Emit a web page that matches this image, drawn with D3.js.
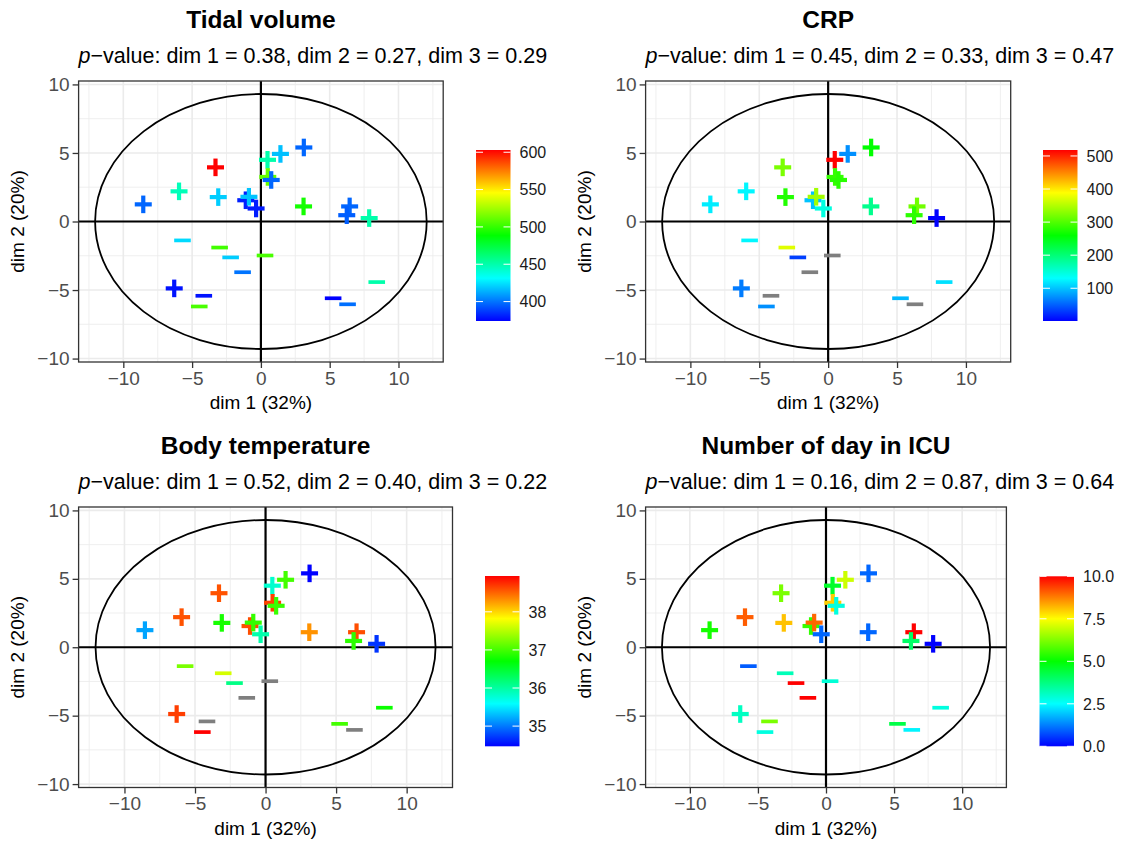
<html>
<head>
<meta charset="utf-8">
<script src="https://d3js.org/d3.v7.min.js"></script>
<style>
  body { margin: 0; background: white; }
  text { font-family: "Liberation Sans", Arial, sans-serif; }
</style>
</head>
<body>
<svg id="chart" width="1124" height="841"></svg>
<script>
// individuals: coordinates on the first two dimensions and their sign
const dim1 = [-8.55, -5.95, -3.3, -3.1, -1.1, -0.87, -0.35, 0.48, 0.5, 0.75, 1.42, 3.12, 3.1, 6.45, 6.24, 7.87, -6.3,
              -5.7, -3.0, -2.2, -1.33, 0.3, -4.15, -4.48, 5.25, 6.3, 8.42];
const dim2 = [1.25, 2.2, 3.95, 1.78, 1.55, 1.8, 0.95, 4.5, 3.25, 3.03, 4.93, 5.4, 1.1, 1.1, 0.46, 0.25, -4.88,
              -1.38, -1.9, -2.62, -3.7, -2.48, -5.42, -6.2, -5.6, -6.04, -4.42];
const sign = ['+','+','+','+','+','+','+','+','+','+','+','+','+','+','+','+','+',
              '-','-','-','-','-','-','-','-','-','-'];

// colour variables (null = missing)
const tidalVolume = [397, 447, 603, 420, 381, 418, 380, 450, 511, 397, 417, 397, 493, 397, 395, 450, 378,
                     423, 503, 420, 400, 505, 378, 505, 374, 399, 450];
const crp = [121, 126, 322, 276, 100, 342, 146, 518, 286, 280, 74, 260, 188, 317, 282, 1, 64,
             126, 373, 33, null, null, null, 74, 95, null, 115];
const bodyTemp = [35.19, 38.58, 38.58, 36.8, 38.6, 36.93, 35.95, 35.8, 38.65, 36.95, 37.0, 34.47, 38.3, 38.6, 36.9, 34.7, 38.67,
                  37.24, 37.64, 36.12, null, null, null, 38.94, 37.0, null, 36.75];
const icuDays = [5.2, 9.1, 6.2, 8.1, 5.5, 9.0, 1.0, 4.6, 8.0, 2.8, 7.0, 1.0, 1.0, 10, 4.0, 0, 3.1,
                 0.9, 3.2, 10, 10, 2.9, 6.2, 2.8, 4.3, 2.4, 2.8];

const titles = ["Tidal volume", "CRP", "Body temperature", "Number of day in ICU"];
const pvals = [["0.38","0.27","0.29"], ["0.45","0.33","0.47"], ["0.52","0.40","0.22"], ["0.16","0.87","0.64"]];
const legendTicks = [[400, 450, 500, 550, 600], [100, 200, 300, 400, 500], [35, 36, 37, 38], [0, 2.5, 5, 7.5, 10]];
const legendFmt = [d3.format("d"), d3.format("d"), d3.format("d"), d3.format(".1f")];
const axisTicks = [-10, -5, 0, 5, 10];
const minorX = [-12.5, -7.5, -2.5, 2.5, 7.5, 12.5];
const minorY = [-7.5, -2.5, 2.5, 7.5];
const ellipseR = [12.05, 9.3];

const values = [tidalVolume, crp, bodyTemp, icuDays];
const rainbow = ["#0000FF", "#00FFFF", "#00FF00", "#FFFF00", "#FF0000"];

const panels = [
  {l: 78.6, r: 443.2, t: 81, b: 362, cx: 476, ct: 150, cb: 321},
  {l: 645.6, r: 1010.7, t: 81, b: 362, cx: 1043, ct: 150, cb: 321},
  {l: 78.6, r: 452.5, t: 507, b: 787.5, cx: 485, ct: 576, cb: 746.3},
  {l: 645.6, r: 1006.4, t: 507, b: 787.5, cx: 1039.5, ct: 576.3, cb: 746.3}
];

const svg = d3.select("#chart");
const defs = svg.append("defs");

panels.forEach(function(p, k) {
  const g = svg.append("g");
  const x = d3.scaleLinear().domain([-13.25, 13.25]).range([p.l, p.r]);
  const y = d3.scaleLinear().domain([-10.25, 10.25]).range([p.b, p.t]);
  const vals = values[k];
  const ext = d3.extent(vals.filter(function(v) { return v != null; }));
  const col = d3.scaleLinear()
    .domain(d3.range(5).map(function(i) { return ext[0] + i * (ext[1] - ext[0]) / 4; }))
    .range(rainbow);

  // grid
  g.selectAll(".mx").data(minorX).enter().append("line")
    .attr("x1", d => x(d)).attr("x2", d => x(d)).attr("y1", p.t).attr("y2", p.b)
    .attr("stroke", "#EBEBEB").attr("stroke-width", 0.8);
  g.selectAll(".my").data(minorY).enter().append("line")
    .attr("y1", d => y(d)).attr("y2", d => y(d)).attr("x1", p.l).attr("x2", p.r)
    .attr("stroke", "#EBEBEB").attr("stroke-width", 0.8);
  g.selectAll(".gx").data(axisTicks).enter().append("line")
    .attr("x1", d => x(d)).attr("x2", d => x(d)).attr("y1", p.t).attr("y2", p.b)
    .attr("stroke", "#EBEBEB").attr("stroke-width", 1.6);
  g.selectAll(".gy").data(axisTicks).enter().append("line")
    .attr("y1", d => y(d)).attr("y2", d => y(d)).attr("x1", p.l).attr("x2", p.r)
    .attr("stroke", "#EBEBEB").attr("stroke-width", 1.6);

  // ellipse and zero lines
  g.append("ellipse")
    .attr("cx", x(0)).attr("cy", y(0))
    .attr("rx", x(ellipseR[0]) - x(0)).attr("ry", y(0) - y(ellipseR[1]))
    .attr("fill", "none").attr("stroke", "black").attr("stroke-width", 1.8);
  g.append("line").attr("x1", p.l).attr("x2", p.r).attr("y1", y(0)).attr("y2", y(0))
    .attr("stroke", "black").attr("stroke-width", 2.2);
  g.append("line").attr("x1", x(0)).attr("x2", x(0)).attr("y1", p.t).attr("y2", p.b)
    .attr("stroke", "black").attr("stroke-width", 2.2);

  // points
  const pts = g.selectAll(".pt").data(d3.range(dim1.length)).enter().append("g")
    .attr("transform", i => "translate(" + x(dim1[i]) + "," + y(dim2[i]) + ")");
  pts.each(function(i) {
    const c = vals[i] == null ? "#7F7F7F" : col(vals[i]);
    const s = d3.select(this);
    if (sign[i] === '+') {
      s.append("line").attr("x1", -8.5).attr("x2", 8.5).attr("y1", 0).attr("y2", 0)
        .attr("stroke", c).attr("stroke-width", 4.2);
      s.append("line").attr("x1", 0).attr("x2", 0).attr("y1", -8.8).attr("y2", 8.8)
        .attr("stroke", c).attr("stroke-width", 4.2);
    } else {
      s.append("line").attr("x1", -8.3).attr("x2", 8.3).attr("y1", 0).attr("y2", 0)
        .attr("stroke", c).attr("stroke-width", 3.7);
    }
  });

  // panel border
  g.append("rect").attr("x", p.l).attr("y", p.t).attr("width", p.r - p.l).attr("height", p.b - p.t)
    .attr("fill", "none").attr("stroke", "#333333").attr("stroke-width", 1.3);

  // axes
  const ax = g.append("g").attr("transform", "translate(0," + p.b + ")")
    .call(d3.axisBottom(x).tickValues(axisTicks).tickSize(6).tickPadding(3).tickFormat(d3.format("d")));
  const ay = g.append("g").attr("transform", "translate(" + p.l + ",0)")
    .call(d3.axisLeft(y).tickValues(axisTicks).tickSize(6).tickPadding(3).tickFormat(d3.format("d")));
  [ax, ay].forEach(function(a) {
    a.select(".domain").remove();
    a.selectAll(".tick line").attr("stroke", "#333333").attr("stroke-width", 1.3);
    a.selectAll(".tick text").attr("fill", "#4D4D4D").style("font-size", "19px")
      .style("font-family", "'Liberation Sans', Arial, sans-serif");
  });
  ax.selectAll(".tick text").attr("dy", "0.72em");

  // axis titles
  g.append("text").attr("x", (p.l + p.r) / 2).attr("y", p.b + 47.3).attr("text-anchor", "middle")
    .style("font-size", "19px").text("dim 1 (32%)");
  g.append("text").attr("transform", "translate(" + (p.l - 55) + "," + ((p.t + p.b) / 2) + ") rotate(-90)")
    .attr("text-anchor", "middle").style("font-size", "19px").text("dim 2 (20%)");

  // title and subtitle
  g.append("text").attr("x", (p.l + p.r) / 2).attr("y", p.t - 52.7).attr("text-anchor", "middle")
    .style("font-size", "24.5px").style("font-weight", "bold").text(titles[k]);
  const sub = g.append("text").attr("x", p.l).attr("y", p.t - 18.5).style("font-size", "21.5px");
  sub.append("tspan").style("font-style", "italic").text("p");
  sub.append("tspan").text("\u2212value: dim 1 = " + pvals[k][0] + ", dim 2 = " + pvals[k][1] + ", dim 3 = " + pvals[k][2]);

  // colour bar
  const gid = "grad" + k;
  const grad = defs.append("linearGradient").attr("id", gid)
    .attr("x1", 0).attr("y1", 1).attr("x2", 0).attr("y2", 0);
  rainbow.forEach(function(c, i) {
    grad.append("stop").attr("offset", (i / 4 * 100) + "%").attr("stop-color", c);
  });
  const cw = 34.5;
  const cy = d3.scaleLinear().domain(ext).range([p.cb, p.ct]);
  g.append("rect").attr("x", p.cx).attr("y", p.ct).attr("width", cw).attr("height", p.cb - p.ct)
    .attr("fill", "url(#" + gid + ")");
  const lt = g.selectAll(".lt").data(legendTicks[k]).enter().append("g")
    .attr("transform", d => "translate(0," + cy(d) + ")");
  lt.append("line").attr("x1", p.cx).attr("x2", p.cx + 7).attr("stroke", "white").attr("stroke-width", 1);
  lt.append("line").attr("x1", p.cx + cw - 7).attr("x2", p.cx + cw).attr("stroke", "white").attr("stroke-width", 1);
  lt.append("text").attr("x", p.cx + cw + 9).attr("dy", "0.36em").attr("fill", "#1A1A1A")
    .style("font-size", "16px").text(d => legendFmt[k](d));
});
</script>
</body>
</html>
